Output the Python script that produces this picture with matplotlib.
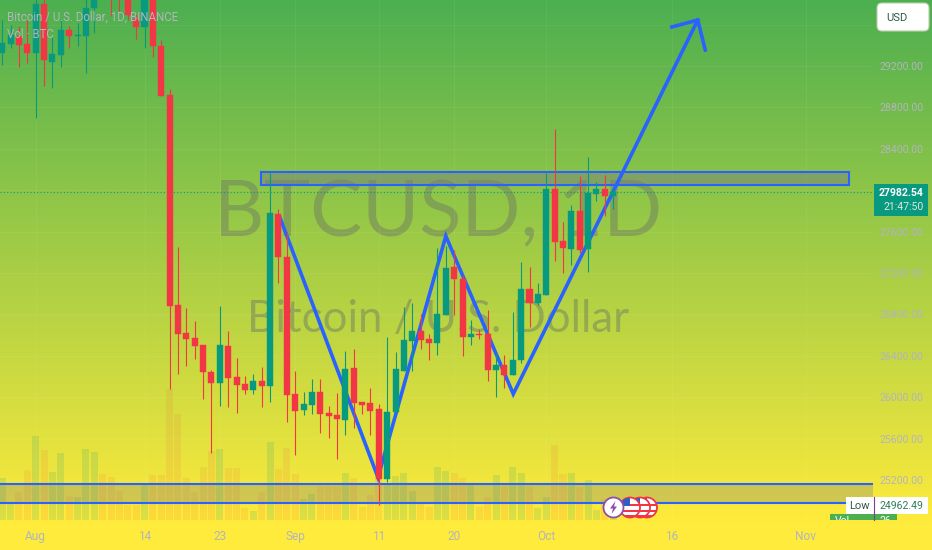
import numpy as np
import matplotlib
matplotlib.use("Agg")
import matplotlib.pyplot as plt
from matplotlib.patches import Rectangle, FancyBboxPatch, Circle, Polygon

# days counted from Aug 1
days = list(range(-4, 70))
opens = [29326, 29417, 29490, 29413, 29326, 29799, 29239, 29306, 29548, 29490, 29490, 29760, 30000, 29950, 29950, 30000, 29654, 29577, 29900, 29393,
         28920, 26891, 26623, 26572, 26501, 26246, 26140, 26492, 26195, 26127, 26069, 26156, 26108, 27770, 27357, 26028, 25876, 25927, 26047, 25844,
         25825, 25777, 26279, 25953, 25944, 25886, 25210, 25857, 26250, 26543, 26640, 26562, 26524, 26794, 27261, 27142, 26582, 26611, 26611, 26263,
         26308, 26211, 26359, 27045, 26913, 26987, 28012, 27509, 27429, 27799, 27429, 27966, 28012, 27944]
closes = [29422, 29500, 29403, 29326, 29799, 29258, 29316, 29548, 29490, 29500, 29760, 29900, 29950, 29850, 29860, 29693, 29577, 29900, 29393, 28910,
          26884, 26613, 26562, 26492, 26241, 26140, 26501, 26188, 26118, 26069, 26156, 26108, 27780, 27357, 26018, 25869, 25934, 26047, 25838, 25818,
          25786, 26270, 25947, 25927, 25867, 25210, 25857, 26270, 26553, 26640, 26553, 26524, 26804, 27245, 27139, 26584, 26611, 26601, 26263, 26311,
          26211, 26359, 27045, 26913, 26997, 28012, 27502, 27439, 27799, 27422, 27973, 28012, 27944, 27982.54]
highs = [29644, 29600, 29586, 29644, 29860, 29860, 29480, 29644, 29586, 29615, 29880, 29950, 30100, 30000, 30000, 30050, 29700, 29950, 29950, 29451,
         28978, 27451, 26862, 26733, 26504, 26263, 26884, 26637, 26376, 26205, 26224, 26289, 28166, 27815, 27599, 26253, 26047, 26176, 26176, 25915,
         26038, 26449, 26466, 25953, 26086, 25934, 26579, 26439, 26875, 26913, 26804, 26611, 27442, 27461, 27422, 27181, 26746, 26659, 26842, 26427,
         26408, 26826, 27303, 27255, 27106, 28169, 28591, 27690, 27857, 28140, 28318, 28076, 28147, 28018]
lows = [29210, 29374, 29190, 29229, 28698, 29007, 28987, 29190, 29374, 29393, 29132, 29519, 29900, 29683, 29731, 29644, 29461, 29374, 29287, 28910,
        26079, 26224, 26301, 26372, 25985, 25464, 25915, 25908, 25850, 26031, 26028, 25908, 25956, 27100, 25763, 25444, 25825, 25838, 25657, 25606,
        25403, 25635, 25699, 25838, 25635, 24962.49, 25181, 25857, 26250, 26256, 26463, 26359, 26408, 26794, 26794, 26401, 26504, 26562, 26156, 25999,
        26092, 26211, 26333, 26681, 26891, 26987, 27319, 27203, 27277, 27393, 27210, 27896, 27751, 27821]
volumes = [42, 17, 28, 50, 84, 70, 48, 67, 24, 23, 71, 68, 46, 43, 29, 15, 15, 36, 45, 45,
           131, 106, 42, 28, 53, 69, 71, 52, 52, 12, 9, 28, 78, 51, 72, 46, 21, 26, 34, 34,
           34, 47, 42, 13, 25, 42, 37, 44, 47, 29, 16, 13, 53, 49, 47, 42, 36, 13, 23, 45,
           34, 53, 47, 34, 12, 23, 75, 46, 47, 33, 40, 10, 21, 11]

price_ticks = [29600, 29200, 28800, 28400, 28000, 27600, 27200, 26800, 26400, 26000, 25600, 25200]
price_labels = ["", "29200.00", "28800.00", "28400.00", "", "27600.00", "27200.00", "26800.00", "26400.00", "26000.00", "25600.00", "25200.00"]
time_ticks = [0, 13, 22, 31, 41, 50, 61, 76, 92]
time_labels = ["Aug", "14", "23", "Sep", "11", "20", "Oct", "16", "Nov"]

# hand drawn pattern
pattern_days = [29.2, 40.9, 49.0, 57.06, 79.1]
pattern_prices = [27731, 25224, 27557, 26031, 29644]
arrow_days = [76.0, 79.1, 80.0]
arrow_prices = [29577, 29644, 29355]
top_zone = (26.92, 97.17, 28050, 28178)
bottom_zone = (24980, 25161)

last_price = 27982.54
low_price = 24962.49

TEAL = "#089981"
RED = "#F23645"
BLUE = "#2962FF"
GREY = "#B2B5BE"
UI_FONT = "Roboto"

fig = plt.figure(figsize=(9.32, 5.5), dpi=100)

# background gradient and watermark
bg = fig.add_axes([0, 0, 1, 1], zorder=0)
top_col = np.array([76, 175, 80]) / 255
bot_col = np.array([255, 235, 59]) / 255
t = np.clip(np.linspace(0, 1, 550) / (522 / 550), 0, 1)[:, None, None]
grad = top_col[None, None, :] * (1 - t) + bot_col[None, None, :] * t
bg.imshow(grad, extent=[0, 932, 550, 0], aspect="auto")
bg.set_xlim(0, 932)
bg.set_ylim(550, 0)
bg.axis("off")
bg.text(438.5, 215, "BTCUSD, 1D", fontsize=56, family="Lato", color="#6F7F60", alpha=0.5, ha="center", va="center")
bg.text(438, 320, "Bitcoin / U.S. Dollar", fontsize=31.5, family="Lato", color="#6F7F60", alpha=0.5, ha="center", va="center")

pane = [0, 30 / 550, 873 / 932, 520 / 550]
xlim = (-4.265, 100.04)

# volume pane
ax_vol = fig.add_axes(pane, zorder=1)
ax_vol.patch.set_visible(False)
for d, v, o, c in zip(days, volumes, opens, closes):
    if c >= o:
        ax_vol.bar(d, v, width=0.84, color=TEAL, alpha=0.14, linewidth=0)
    else:
        ax_vol.bar(d, v, width=0.84, color=RED, alpha=0.09, linewidth=0)
ax_vol.set_xlim(*xlim)
ax_vol.set_ylim(0, 520)
ax_vol.axis("off")

# price pane
ax = fig.add_axes(pane, zorder=2)
ax.patch.set_visible(False)
ax.set_xlim(*xlim)
ax.set_ylim(24813.5, 29837.7)
ax.grid(True, color="white", alpha=0.06, linewidth=0.8, zorder=0)

ax.add_patch(Rectangle((top_zone[0], top_zone[2]), top_zone[1] - top_zone[0], top_zone[3] - top_zone[2],
                       facecolor="#787B86", alpha=0.45, edgecolor="none", zorder=2))
ax.add_patch(Rectangle((top_zone[0], top_zone[2]), top_zone[1] - top_zone[0], top_zone[3] - top_zone[2],
                       fill=False, edgecolor=BLUE, linewidth=1.5, zorder=2))
ax.axhspan(bottom_zone[0], bottom_zone[1], facecolor="#787B86", alpha=0.3, zorder=2)
ax.axhline(bottom_zone[0], color=BLUE, linewidth=1.5, zorder=2)
ax.axhline(bottom_zone[1], color=BLUE, linewidth=1.5, zorder=2)

ax.plot(pattern_days, pattern_prices, color=BLUE, linewidth=2.6, solid_joinstyle="miter", zorder=3)
ax.plot(arrow_days, arrow_prices, color=BLUE, linewidth=2.6, solid_joinstyle="miter", zorder=3)
ax.axhline(last_price, color=TEAL, linewidth=0.8, linestyle=(0, (1, 2)), zorder=3)

for d, o, h, l, c in zip(days, opens, highs, lows, closes):
    col = TEAL if c >= o else RED
    ax.vlines(d, l, h, color=col, linewidth=0.8, zorder=4)
    ax.bar(d, abs(c - o), bottom=min(o, c), width=0.72, color=col, linewidth=0.3, edgecolor=col, zorder=5)

ax.yaxis.tick_right()
ax.set_yticks(price_ticks)
ax.set_yticklabels(price_labels, family=UI_FONT, fontsize=7.6, color=GREY, ha="right")
ax.set_xticks(time_ticks)
ax.set_xticklabels(time_labels, family=UI_FONT, fontsize=8.6, color=GREY)
ax.tick_params(axis="both", length=0)
ax.tick_params(axis="y", pad=36.4)
ax.tick_params(axis="x", pad=7.5)
for s in ax.spines.values():
    s.set_visible(False)

# labels and icons on top, in pixels
ui = fig.add_axes([0, 0, 1, 1], zorder=10)
ui.patch.set_visible(False)
ui.set_xlim(0, 932)
ui.set_ylim(550, 0)
ui.axis("off")

ui.text(7, 17, "Bitcoin / U.S. Dollar, 1D, BINANCE", family=UI_FONT, fontsize=8.3, color=GREY, va="center")
ui.text(7, 35, "Vol · BTC", family=UI_FONT, fontsize=8.3, color=GREY, va="center")

ui.add_patch(FancyBboxPatch((880, 6), 46, 22, boxstyle="round,pad=3,rounding_size=5",
                            facecolor="white", edgecolor="#B9CFA8", linewidth=0.8))
ui.text(886, 18, "USD", family=UI_FONT, fontsize=8, color="#2E5A46", va="center")

ui.add_patch(Rectangle((874, 183.5), 54, 32, facecolor=TEAL, edgecolor="none"))
ui.text(923.5, 192.5, "%.2f" % last_price, family=UI_FONT, fontsize=7.6, weight="bold", color="white", ha="right", va="center")
ui.text(923.5, 207, "21:47:50", family=UI_FONT, fontsize=7.6, color="#DDE8D8", ha="right", va="center")

# low label, the volume one under it is cut by the pane edge
ui.add_patch(Rectangle((830, 514), 66.5, 6, facecolor="#4CAF50", edgecolor="none"))
clip = Rectangle((830, 514), 66.5, 6, transform=ui.transData)
for tx, lab in ((835, "Vol"), (880, "26")):
    tt = ui.text(tx, 521, lab, family=UI_FONT, fontsize=7.6, color="white", va="center")
    tt.set_clip_path(clip)
    tt.set_clip_on(True)
ui.add_patch(Rectangle((846, 497), 82, 17, facecolor="white", edgecolor="none"))
ui.plot([873.5, 873.5], [497, 520], color="#7B3F98", linewidth=0.8)
ui.text(859.5, 506, "Low", family=UI_FONT, fontsize=8, color="#2E5A46", ha="center", va="center")
ui.text(923.5, 506, "%.2f" % low_price, family=UI_FONT, fontsize=7.6, color="#2E7D5B", ha="right", va="center")

# event icons
for cx in (647, 640, 630):
    circ = Circle((cx, 507.5), 10, facecolor="white", edgecolor=RED, linewidth=1.3, zorder=11)
    ui.add_patch(circ)
    for sy in (504, 510, 515):
        st = Rectangle((cx - 10, sy), 20, 2.2, facecolor=RED, edgecolor="none", zorder=11)
        ui.add_patch(st)
        st.set_clip_path(circ)
    can = Rectangle((cx - 10, 498), 10, 8, facecolor="#2F5FC4", edgecolor="none", zorder=11)
    ui.add_patch(can)
    can.set_clip_path(circ)
ui.add_patch(Circle((613.5, 507.5), 10, facecolor="white", edgecolor="#8E4FA8", linewidth=1.3, zorder=12))
ui.add_patch(Polygon([(615.5, 501), (610, 508.5), (613, 508.5), (611.5, 514), (617, 506.5), (614, 506.5)],
                     facecolor="#8E4FA8", edgecolor="none", zorder=12))

fig.savefig("out.png", dpi=100)
